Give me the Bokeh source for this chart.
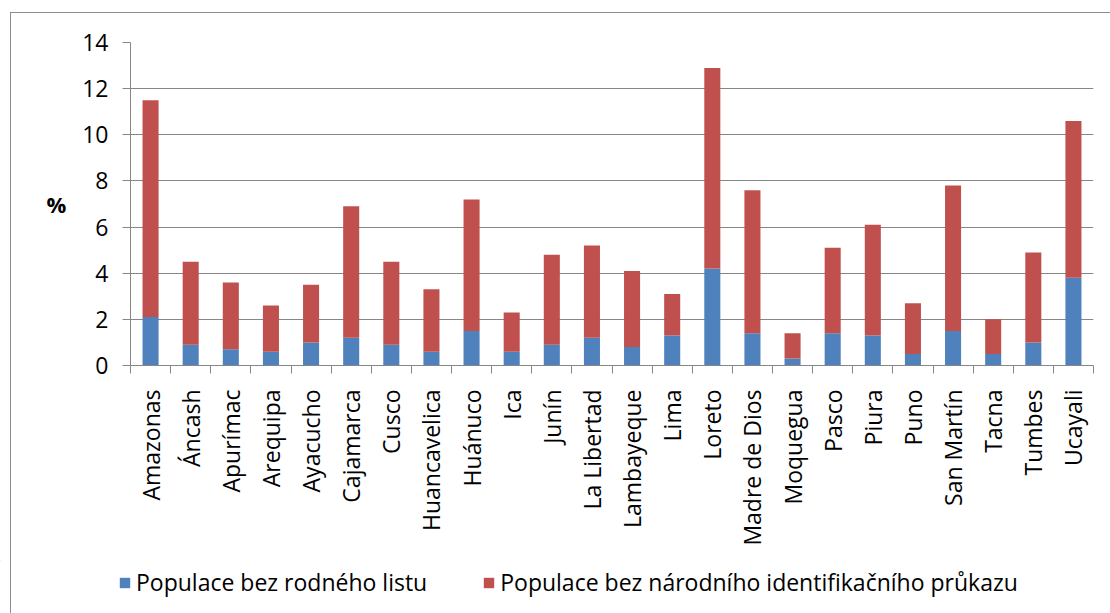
import math
from bokeh.plotting import figure
from bokeh.layouts import column
from bokeh.models import FixedTicker, Range1d, Legend, LegendItem
from bokeh.embed import file_html
from bokeh.resources import INLINE

regions = ["Amazonas", "Áncash", "Apurímac", "Arequipa", "Ayacucho", "Cajamarca",
           "Cusco", "Huancavelica", "Huánuco", "Ica", "Junín", "La Libertad",
           "Lambayeque", "Lima", "Loreto", "Madre de Dios", "Moquegua", "Pasco",
           "Piura", "Puno", "San Martín", "Tacna", "Tumbes", "Ucayali"]
bez_rodneho_listu = [2.1, 0.9, 0.7, 0.6, 1.0, 1.2, 0.9, 0.6, 1.5, 0.6, 0.9, 1.2,
                     0.8, 1.3, 4.2, 1.4, 0.3, 1.4, 1.3, 0.5, 1.5, 0.5, 1.0, 3.8]
celkem = [11.5, 4.5, 3.6, 2.6, 3.5, 6.9, 4.5, 3.3, 7.2, 2.3, 4.8, 5.2,
          4.1, 3.1, 12.9, 7.6, 1.4, 5.1, 6.1, 2.7, 7.8, 2.0, 4.9, 10.6]
bez_prukazu = [round(t - b, 2) for t, b in zip(celkem, bez_rodneho_listu)]
y_ticks = [0, 2, 4, 6, 8, 10, 12, 14]
series_names = ["Populace bez rodného listu",
                "Populace bez národního identifikačního průkazu"]
colors = ["#4F81BD", "#C0504D"]

FONT = "Open Sans"
GRAY = "#868686"

xs = list(range(1, len(regions) + 1))
data = dict(x=xs, blue=bez_rodneho_listu, red=bez_prukazu)

p = figure(width=1110, height=560, output_backend="svg", toolbar_location=None,
           x_range=Range1d(0.5, len(regions) + 0.5), y_range=Range1d(0, 14),
           min_border_left=130, min_border_right=17, min_border_top=42,
           min_border_bottom=195)
p.frame_align = False

rs = p.vbar_stack(["blue", "red"], x="x", width=0.4, source=data,
                  color=colors, line_color=None)

p.outline_line_color = None
p.xgrid.grid_line_color = None
p.ygrid.grid_line_color = GRAY
p.ygrid.grid_line_width = 1

# y axis
p.yaxis.ticker = FixedTicker(ticks=y_ticks)
p.yaxis.axis_line_color = GRAY
p.yaxis.major_tick_line_color = GRAY
p.yaxis.major_tick_out = 8
p.yaxis.major_tick_in = 0
p.yaxis.minor_tick_line_color = None
p.yaxis.major_label_standoff = 14
p.yaxis.major_label_text_font = FONT
p.yaxis.major_label_text_font_size = "23px"
p.yaxis.major_label_text_color = "black"
p.yaxis.axis_label = "%"
p.yaxis.axis_label_orientation = "horizontal"
p.yaxis.axis_label_standoff = 13
p.yaxis.axis_label_text_font = FONT
p.yaxis.axis_label_text_font_size = "22px"
p.yaxis.axis_label_text_font_style = "bold"
p.yaxis.axis_label_text_color = "black"

# x axis
p.xaxis.ticker = FixedTicker(ticks=xs, minor_ticks=[i + 0.5 for i in range(0, len(regions) + 1)])
p.xaxis.major_label_overrides = {x: r for x, r in zip(xs, regions)}
p.xaxis.major_label_orientation = math.pi / 2
p.xaxis.axis_line_color = GRAY
p.xaxis.major_tick_line_color = None
p.xaxis.major_tick_out = 0
p.xaxis.major_tick_in = 0
p.xaxis.minor_tick_line_color = GRAY
p.xaxis.minor_tick_out = 8
p.xaxis.minor_tick_in = 0
p.xaxis.major_label_standoff = 16
p.xaxis.major_label_text_font = FONT
p.xaxis.major_label_text_font_size = "23px"
p.xaxis.major_label_text_color = "black"

# legend strip below the chart (its zero-width renderers sit outside the visible range)
pl = figure(width=1110, height=53, output_backend="svg", toolbar_location=None,
            x_range=Range1d(0, 1), y_range=Range1d(0, 1),
            x_axis_location=None, y_axis_location=None,
            min_border=0, min_border_left=0, min_border_right=0,
            min_border_top=0, min_border_bottom=0)
pl.frame_align = False
pl.grid.visible = False
pl.outline_line_color = None
lr = [pl.vbar(x=[-50], bottom=[5], top=[6], width=0, color=c, line_color=None) for c in colors]
legend = Legend(items=[LegendItem(label=series_names[0], renderers=[lr[0]]),
                       LegendItem(label=series_names[1], renderers=[lr[1]])],
                orientation="horizontal", location=(118, 15),
                glyph_width=13, glyph_height=13, label_standoff=5, spacing=55,
                padding=0, margin=0, border_line_color=None,
                background_fill_alpha=0,
                label_text_font=FONT, label_text_font_size="23px",
                label_text_color="black")
pl.add_layout(legend, "center")

layout = column(p, pl, spacing=0)
layout.stylesheets = [":host::after { content: ''; position: absolute; "
                      "left: 10px; top: 12px; width: 1120px; height: 620px; border: 1px solid #8c8c8c; "
                      "pointer-events: none; z-index: 10; }"]

open("out.html", "w").write(file_html(layout, INLINE))
